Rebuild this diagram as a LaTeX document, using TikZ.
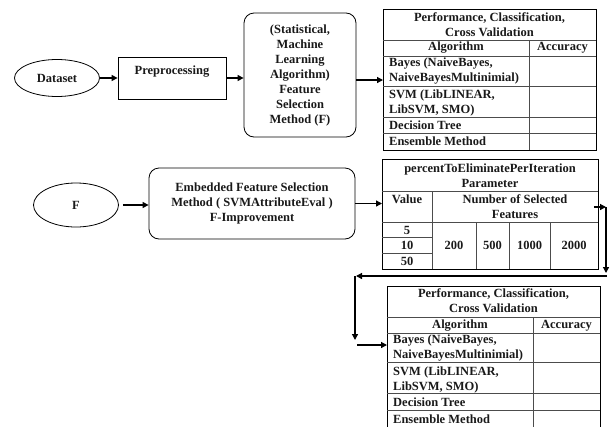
\documentclass[tikz,border=0pt]{standalone}
\usepackage{fontspec}
\setmainfont{Liberation Serif}
\usetikzlibrary{arrows.meta,shapes.geometric}
\begin{document}
\begin{tikzpicture}[x=1pt,y=-1pt,
  every node/.style={font=\fontsize{12.5}{15}\selectfont\bfseries, inner sep=0pt, text=black!90},
  box/.style={draw, line width=0.8pt},
  rbox/.style={draw, line width=0.8pt, rounded corners=10pt},
  oval/.style={draw, ellipse, line width=0.8pt},
  tbl/.style={draw, line width=0.8pt, anchor=north west},
  arr/.style={line width=1.3pt, -{Triangle[length=6pt,width=6pt]}},
  tline/.style={line width=0.8pt, draw=black!70},
  lcell/.style={anchor=west},
]
\useasboundingbox (0,0) rectangle (610,426);
\clip (0,0) rectangle (610,426);

% ---------- row 1 ----------
\node[oval, minimum width=85, minimum height=37] (ds) at (57,78) {Dataset};
\node[box, minimum width=108, minimum height=42] (pre) at (172,78) {};
\node (pret) at (172,72) {Preprocessing};
\node[rbox, minimum width=112, minimum height=124, align=center] (fs) at (300,75)
  {(Statistical,\\Machine\\Learning\\Algorithm)\\Feature\\Selection\\Method (F)};

% table 1
\node[tbl, minimum width=213, minimum height=141] (t1) at (383,9) {};
\draw[tline] (383,40) -- (596,40);
\draw[tline] (383,56) -- (596,56);
\draw[tline] (383,86) -- (596,86);
\draw[tline] (383,117) -- (596,117);
\draw[tline] (383,133) -- (596,133);
\draw[tline] (529,40) -- (529,150);
\node[align=center] (t1h) at (489.5,24.5) {Performance, Classification,\\Cross Validation};
\node (t1a) at (456,48) {Algorithm};
\node (t1b) at (562.5,48) {Accuracy};
\node[lcell, align=left] (t1c) at (389,71) {Bayes (NaiveBayes,\\NaiveBayesMultinimial)};
\node[lcell, align=left] (t1d) at (389,103) {SVM (LibLINEAR,\\LibSVM, SMO)};
\node[lcell] (t1e) at (389,125) {Decision Tree};
\node[lcell] (t1f) at (389,141.5) {Ensemble Method};

\draw[arr] (ds.east) -- (pre.west);
\draw[arr] (pre.east) -- (pre.east -| fs.west);
\draw[arr] (fs.east |- 0,80) -- (t1.west |- 0,80);

% ---------- row 2 ----------
\node[oval, minimum width=85, minimum height=44] (f) at (76,205) {F};
\node[rbox, minimum width=206, minimum height=71, align=center] (emb) at (252,203.5)
  {Embedded Feature Selection\\Method ( SVMAttributeEval )\\F-Improvement};

% table 2
\node[tbl, minimum width=216, minimum height=110] (t2) at (382,159) {};
\draw[tline] (382,191) -- (598,191);
\draw[tline] (382,222) -- (598,222);
\draw[tline] (432,191) -- (432,269);
\draw[tline] (382,237.5) -- (432,237.5);
\draw[tline] (382,253) -- (432,253);
\draw[tline] (476,222) -- (476,269);
\draw[tline] (509,222) -- (509,269);
\draw[tline] (550,222) -- (550,269);
\node[align=center] (t2h) at (490,175.5) {percentToEliminatePerIteration\\Parameter};
\node (t2v) at (407,199) {Value};
\node[align=center] (t2n) at (515,206.5) {Number of Selected\\Features};
\node (t2a) at (407,230) {5};
\node (t2b) at (407,245.5) {10};
\node (t2c) at (407,261) {50};
\node (t2d) at (454,245.5) {200};
\node (t2e) at (492.5,245.5) {500};
\node (t2f) at (529.5,245.5) {1000};
\node (t2g) at (574,245.5) {2000};

\draw[arr] ([xshift=4pt]f.east) -- (emb.west |- f.east);
\draw[arr] (emb.east) -- (t2.west |- emb.east);

% ---------- loop-back connectors ----------
\coordinate (r1) at (606,207);
\coordinate (r2) at (606,273);
\coordinate (r3) at (607,276);
\coordinate (l1) at (356,276);
\coordinate (l2) at (355,340);
\coordinate (l3) at (357,345);
\draw[arr] ([xshift=-5pt]t2.east |- r1) -- (r1);
\draw[arr] (r1) -- (r2);
\draw[arr] (r3) -- (l1);
\draw[arr] (355,276) -- (l2);

% table 3
\node[tbl, minimum width=213, minimum height=150] (t3) at (387,286) {};
\draw[tline] (387,317) -- (600,317);
\draw[tline] (387,333) -- (600,333);
\draw[tline] (387,362) -- (600,362);
\draw[tline] (387,393) -- (600,393);
\draw[tline] (387,410) -- (600,410);
\draw[tline] (533,317) -- (533,436);
\node[align=center] (t3h) at (493.5,301) {Performance, Classification,\\Cross Validation};
\node (t3a) at (460,325.5) {Algorithm};
\node (t3b) at (566.5,325.5) {Accuracy};
\node[lcell, align=left] (t3c) at (393,348.5) {Bayes (NaiveBayes,\\NaiveBayesMultinimial)};
\node[lcell, align=left] (t3d) at (393,379.5) {SVM (LibLINEAR,\\LibSVM, SMO)};
\node[lcell] (t3e) at (393,402) {Decision Tree};
\node[lcell] (t3f) at (393,419) {Ensemble Method};

\draw[arr] (l3) -- (t3.west |- l3);
\end{tikzpicture}
\end{document}
